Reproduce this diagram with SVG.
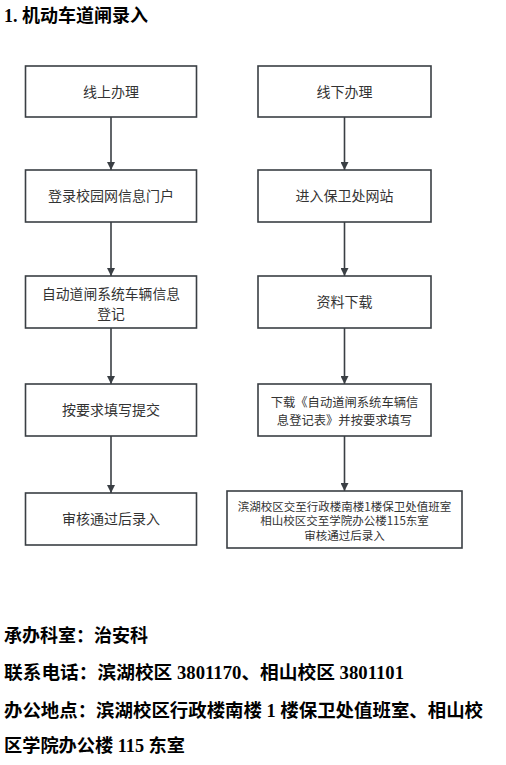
<svg xmlns="http://www.w3.org/2000/svg" width="506" height="765" viewBox="0 0 506 765">
<style>
.box{fill:#fff;stroke:#3a3f44;stroke-width:1.6}
.t{font-family:"Noto Sans CJK SC","Noto Sans",sans-serif;fill:#333;text-anchor:middle}
.h{font-family:"Liberation Serif","Noto Sans CJK SC",serif;font-weight:bold;fill:#000}
.c{stroke:#3a3f44;stroke-width:1.6;fill:none;marker-end:url(#ah)}
</style>
<defs>
<marker id="ah" viewBox="0 0 10 10" refX="10" refY="5" markerWidth="5" markerHeight="5" orient="auto" markerUnits="strokeWidth">
<path d="M0,0 L10,5 L0,10 z" fill="#3a3f44"/>
</marker>
</defs>
<rect width="506" height="765" fill="#fff"/>
<text class="h" x="4" y="22" font-size="18" textLength="144" lengthAdjust="spacingAndGlyphs">1. 机动车道闸录入</text>

<g id="connectors">
<line class="c" x1="111" y1="117" x2="111" y2="170"/>
<line class="c" x1="111" y1="222" x2="111" y2="276"/>
<line class="c" x1="111" y1="328" x2="111" y2="384"/>
<line class="c" x1="111" y1="436" x2="111" y2="493"/>
<line class="c" x1="344.5" y1="117" x2="344.5" y2="170"/>
<line class="c" x1="344.5" y1="222" x2="344.5" y2="276"/>
<line class="c" x1="344.5" y1="328" x2="344.5" y2="384"/>
<line class="c" x1="344.5" y1="436" x2="344.5" y2="491"/>
</g>

<g id="l1"><rect class="box" x="25.5" y="66" width="171" height="51"/><text class="t" x="111" y="97" font-size="14">线上办理</text></g>
<g id="l2"><rect class="box" x="25.5" y="170" width="171" height="52"/><text class="t" x="111" y="201" font-size="14">登录校园网信息门户</text></g>
<g id="l3"><rect class="box" x="25.5" y="276" width="171" height="52"/><text class="t" x="111" y="299" font-size="13.8">自动道闸系统车辆信息</text><text class="t" x="111" y="318.5" font-size="13.8">登记</text></g>
<g id="l4"><rect class="box" x="25.5" y="384" width="171" height="52"/><text class="t" x="111" y="415" font-size="14">按要求填写提交</text></g>
<g id="l5"><rect class="box" x="25.5" y="493" width="171" height="52"/><text class="t" x="111" y="524" font-size="14">审核通过后录入</text></g>

<g id="r1"><rect class="box" x="258" y="66" width="173" height="51"/><text class="t" x="344.5" y="97" font-size="14">线下办理</text></g>
<g id="r2"><rect class="box" x="258" y="170" width="173" height="52"/><text class="t" x="344.5" y="201" font-size="14">进入保卫处网站</text></g>
<g id="r3"><rect class="box" x="258" y="276" width="173" height="52"/><text class="t" x="344.5" y="307" font-size="14">资料下载</text></g>
<g id="r4"><rect class="box" x="258" y="384" width="173" height="52"/><text class="t" x="344.5" y="407" font-size="12.3">下载《自动道闸系统车辆信</text><text class="t" x="344.5" y="425" font-size="12.3">息登记表》并按要求填写</text></g>
<g id="r5"><rect class="box" x="227" y="491" width="235" height="57"/><text class="t" x="344.5" y="510.5" font-size="11.5">滨湖校区交至行政楼南楼1楼保卫处值班室</text><text class="t" x="344.5" y="525" font-size="11.5">相山校区交至学院办公楼115东室</text><text class="t" x="344.5" y="539.5" font-size="11.5">审核通过后录入</text></g>

<text class="h" x="4" y="642" font-size="18" textLength="144" lengthAdjust="spacingAndGlyphs">承办科室：治安科</text>
<text class="h" x="4" y="679" font-size="18" textLength="400" lengthAdjust="spacingAndGlyphs">联系电话：滨湖校区 3801170、相山校区 3801101</text>
<text class="h" x="4" y="717" font-size="18" textLength="479" lengthAdjust="spacingAndGlyphs">办公地点：滨湖校区行政楼南楼 1 楼保卫处值班室、相山校</text>
<text class="h" x="4" y="752" font-size="18" textLength="181" lengthAdjust="spacingAndGlyphs">区学院办公楼 115 东室</text>
</svg>
